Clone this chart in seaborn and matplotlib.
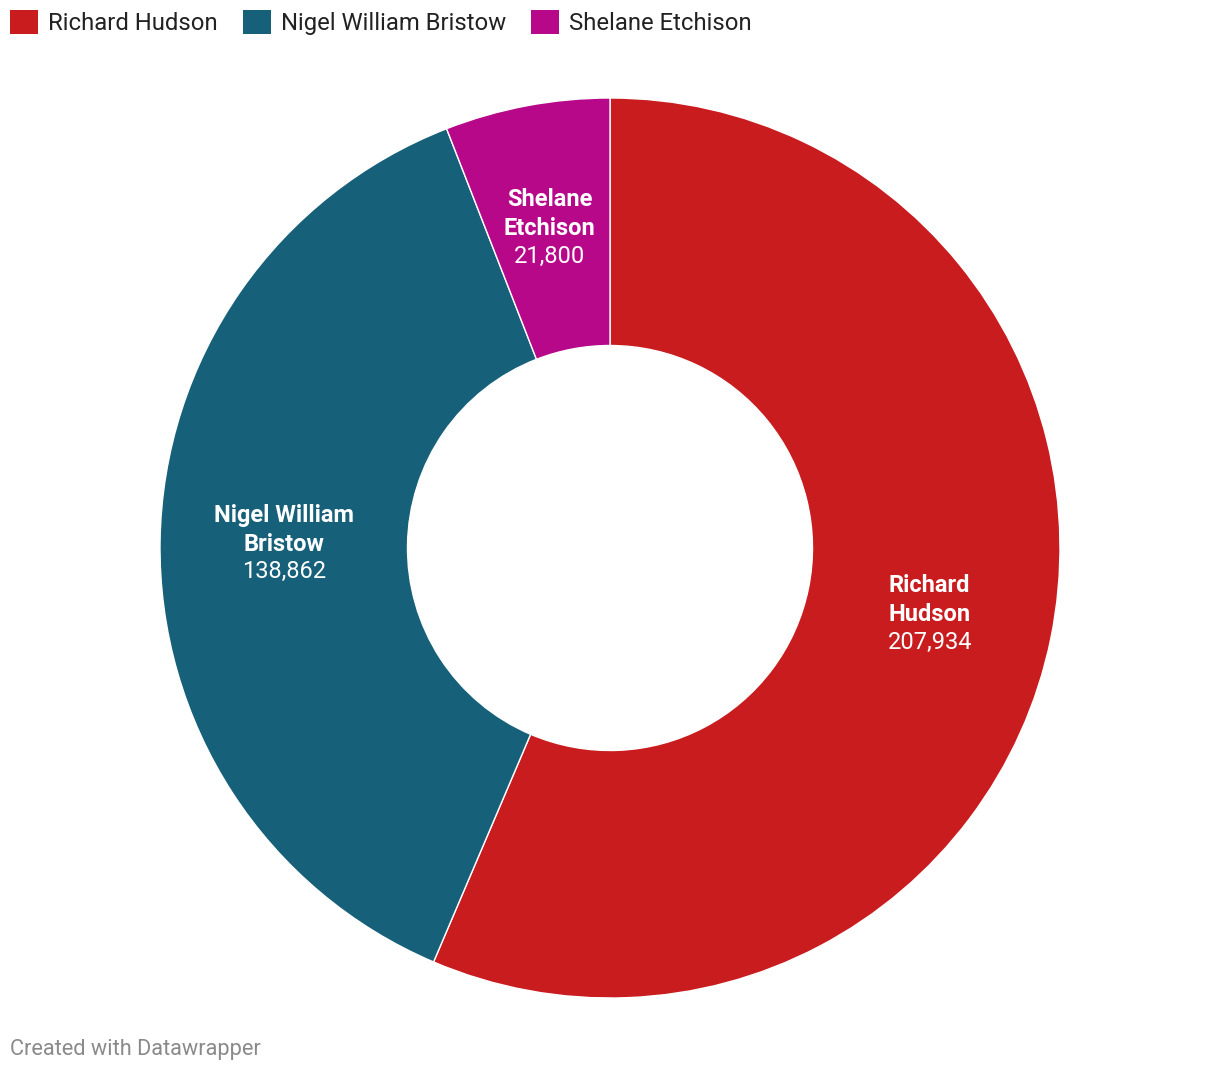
import numpy as np
import matplotlib
matplotlib.use("Agg")
import matplotlib.pyplot as plt
import seaborn as sns
from matplotlib.patches import Patch

candidates = ["Richard Hudson", "Nigel William Bristow", "Shelane Etchison"]
label_names = ["Richard\nHudson", "Nigel William\nBristow", "Shelane\nEtchison"]
votes = [207934, 138862, 21800]
colors = ["#c91c1f", "#17607a", "#b7088a"]

sns.set_theme(style="white")
plt.rcParams["font.family"] = ["Roboto", "DejaVu Sans"]

W, H = 1220, 1074
fig = plt.figure(figsize=(W / 100, H / 100), dpi=100)

# donut: centre (610, 548) px, outer radius 450 px
cx, cy, r = 610, 548, 450
ax = fig.add_axes([(cx - r) / W, (H - cy - r) / H, 2 * r / W, 2 * r / H])
wedges, _ = ax.pie(
    votes,
    colors=colors,
    startangle=90,
    counterclock=False,
    radius=1.0,
    wedgeprops=dict(width=0.55, edgecolor="white", linewidth=1),
)
ax.set_xlim(-1, 1)
ax.set_ylim(-1, 1)
ax.set_aspect("equal")
ax.axis("off")

mid_r = 1 - 0.55 / 2
for w, name, v in zip(wedges, label_names, votes):
    ang = np.deg2rad((w.theta1 + w.theta2) / 2)
    x, y = mid_r * np.cos(ang), mid_r * np.sin(ang)
    ax.annotate(name, (x, y), xytext=(0, 13), textcoords="offset pixels",
                ha="center", va="center", color="white", fontsize=17,
                fontweight="bold", linespacing=1.32)
    ax.annotate(f"{v:,}", (x, y), xytext=(0, -29), textcoords="offset pixels",
                ha="center", va="center", color="white", fontsize=17)

handles = [Patch(facecolor=c, edgecolor="none") for c in colors]
fig.legend(handles, candidates, loc="upper left",
           bbox_to_anchor=(10 / W, 1 - 10 / H),
           ncol=3, frameon=False, fontsize=17.2, handlelength=1.17,
           handleheight=1.17, handletextpad=0.42, columnspacing=1.05,
           borderaxespad=0, borderpad=0, labelcolor="#222222")

fig.text(10 / W, 1 - 1050 / H, "Created with Datawrapper", fontsize=15.7,
         color="#8a8a8a", ha="left", va="center")

fig.savefig("out.png", dpi=100, facecolor="white")
